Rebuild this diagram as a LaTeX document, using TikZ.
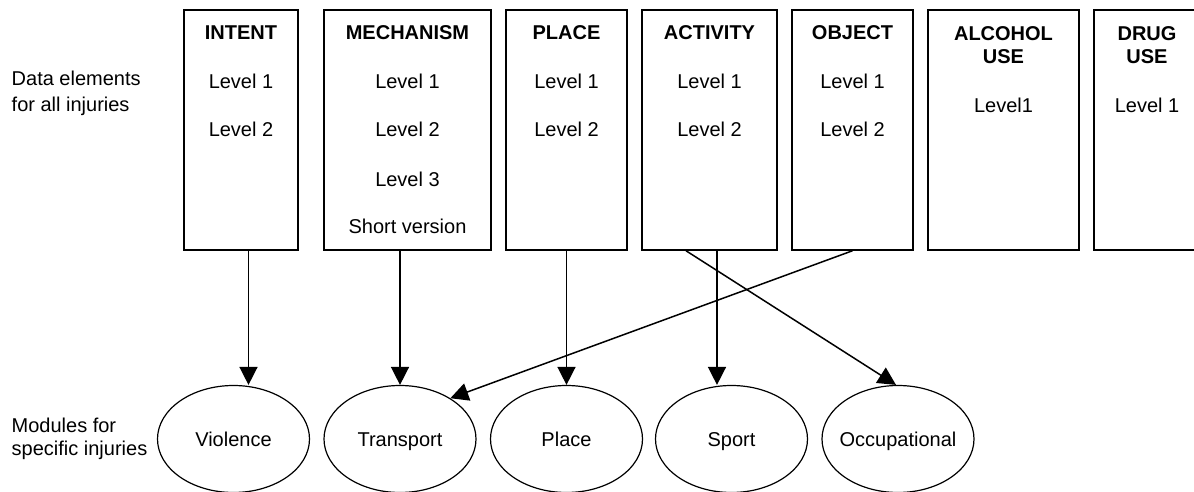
\documentclass[tikz,border=0pt]{standalone}
\usepackage{fontspec}
\setmainfont{Liberation Sans}
\usetikzlibrary{shapes.geometric,arrows.meta}

\begin{document}
\begin{tikzpicture}[x=1pt,y=-1pt]
            \tikzstyle{every node}+=[inner sep=0pt]
            \tikzstyle{txt}=[font=\fontsize{20}{24}\selectfont, anchor=base]
            \tikzstyle{hdr}=[txt, font=\fontsize{20}{24}\selectfont\bfseries]
            \tikzstyle{mtxt}=[font=\fontsize{20}{24}\selectfont, text height=14.5pt, text depth=0pt]
            \tikzstyle{elem}=[draw, line width=1.5pt, minimum height=240pt]
            \tikzstyle{module}=[draw, ellipse, line width=1.2pt, minimum width=152pt, minimum height=107pt]
            \tikzstyle{arr}=[line width=1.5pt, -{Triangle[length=18pt,width=18pt]}]
            \useasboundingbox (0,0) rectangle (1194,492);
            % side captions
            \node[txt, anchor=base west] (data1) at (11.5,86) {Data elements};
            \node[txt, anchor=base west] (data2) at (11.5,112) {for all injuries};
            \node[txt, anchor=base west] (mod1) at (11.5,432) {Modules for};
            \node[txt, anchor=base west] (mod2) at (11.5,455) {specific injuries};
            % data elements
            \node[elem, minimum width=114pt] (intent) at (241,130) {};
            \node[hdr] (intent-h) at (241,40) {INTENT};
            \node[txt] (intent-1) at (241,89) {Level 1};
            \node[txt] (intent-2) at (241,137) {Level 2};
            \node[elem, minimum width=167pt] (mech) at (407.5,130) {};
            \node[hdr] (mech-h) at (407.5,40) {MECHANISM};
            \node[txt] (mech-1) at (407.5,89) {Level 1};
            \node[txt] (mech-2) at (407.5,137) {Level 2};
            \node[txt] (mech-3) at (407.5,186) {Level 3};
            \node[txt] (mech-4) at (407.5,233) {Short version};
            \node[elem, minimum width=121pt] (place) at (566.5,130) {};
            \node[hdr] (place-h) at (566.5,40) {PLACE};
            \node[txt] (place-1) at (566.5,89) {Level 1};
            \node[txt] (place-2) at (566.5,137) {Level 2};
            \node[elem, minimum width=135pt] (activity) at (709.5,130) {};
            \node[hdr] (activity-h) at (709.5,40) {ACTIVITY};
            \node[txt] (activity-1) at (709.5,89) {Level 1};
            \node[txt] (activity-2) at (709.5,137) {Level 2};
            \node[elem, minimum width=121pt] (object) at (852.5,130) {};
            \node[hdr] (object-h) at (852.5,40) {OBJECT};
            \node[txt] (object-1) at (852.5,89) {Level 1};
            \node[txt] (object-2) at (852.5,137) {Level 2};
            \node[elem, minimum width=151pt] (alcohol) at (1003.5,130) {};
            \node[hdr] (alcohol-h) at (1003.5,40.5) {ALCOHOL};
            \node[hdr] (alcohol-u) at (1003.5,64) {USE};
            \node[txt] (alcohol-1) at (1003.5,113) {Level1};
            \node[elem, minimum width=106pt] (drug) at (1147,130) {};
            \node[hdr] (drug-h) at (1147,40.5) {DRUG};
            \node[hdr] (drug-u) at (1147,64) {USE};
            \node[txt] (drug-1) at (1147,113) {Level 1};
            % modules
            \node[module] (vio) at (233.5,439) {};
            \node[mtxt] (vio-t) at (vio) {Violence};
            \node[module] (trans) at (400,439) {};
            \node[mtxt] (trans-t) at (trans) {Transport};
            \node[module] (plc) at (566.5,439) {};
            \node[mtxt] (plc-t) at (plc) {Place};
            \node[module] (sport) at (731.5,439) {};
            \node[mtxt] (sport-t) at (sport) {Sport};
            \node[module] (occ) at (898,439) {};
            \node[mtxt] (occ-t) at (occ) {Occupational};
            % links
            \draw[arr] ([xshift=7.5pt]intent.south) -- ([xshift=15pt]vio.north);
            \draw[arr] ([xshift=-7.5pt]mech.south) -- (trans.north);
            \draw[arr] (place.south) -- (plc.north);
            \draw[arr] ([xshift=7.5pt]activity.south) -- ([xshift=-14.5pt]sport.north);
            \draw[arr] ([xshift=-23.5pt]activity.south) -- ([xshift=-2pt]occ.north);
            \draw[arr] (object.south) -- (trans.39);
        \end{tikzpicture}
\end{document}
